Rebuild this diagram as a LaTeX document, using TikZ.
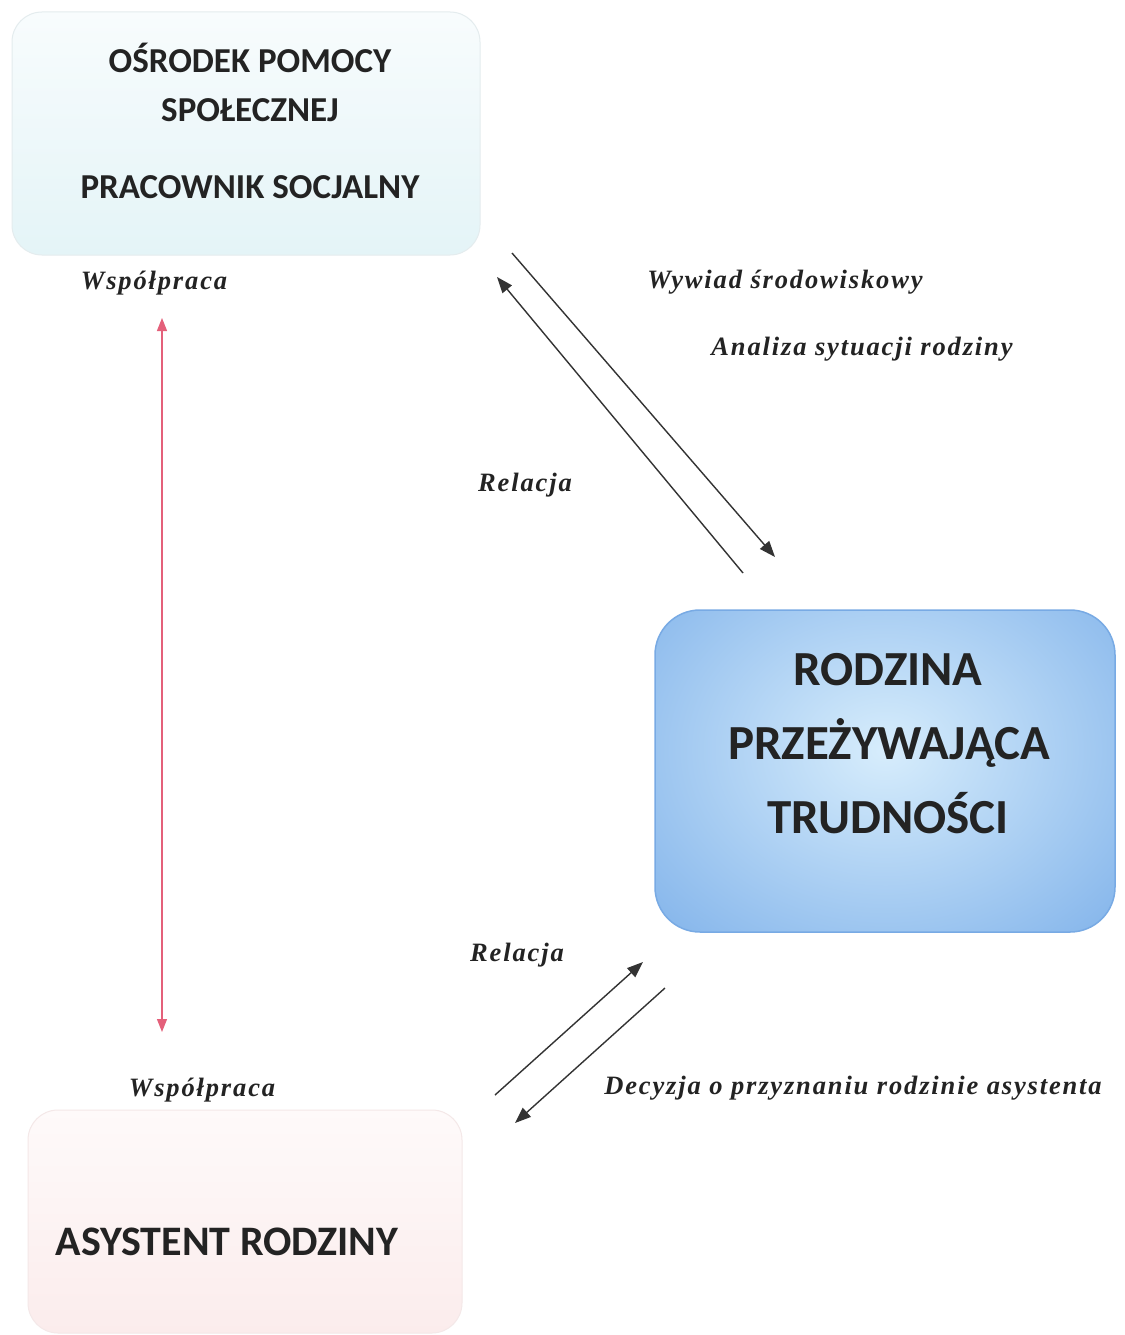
\documentclass[tikz,border=0pt]{standalone}
\usepackage{fontspec}
\setmainfont{Carlito}
\newfontfamily\labfont[LetterSpace=7,UprightFont={* Bold Italic}]{Liberation Serif}
\usetikzlibrary{arrows.meta}
\definecolor{boxline}{RGB}{228,236,238}
\definecolor{cyanfill}{RGB}{248,252,253}
\definecolor{cyanfilldk}{RGB}{228,244,247}
\definecolor{pinkfill}{RGB}{254,250,250}
\definecolor{pinkfilldk}{RGB}{251,236,236}
\definecolor{pinkline}{RGB}{244,232,232}
\definecolor{bluein}{RGB}{215,237,252}
\definecolor{blueout}{RGB}{128,178,234}
\definecolor{blueline}{RGB}{120,170,228}
\definecolor{redarrow}{RGB}{228,96,122}
\definecolor{textdark}{RGB}{35,35,35}
\tikzset{
  softbox/.style={rounded corners=30pt, line width=1pt},
  boxtitle/.style={font=\bfseries\fontsize{35}{42}\selectfont, text=textdark, inner sep=0pt},
  bigtitle/.style={font=\bfseries\fontsize{49}{58}\selectfont, text=textdark, inner sep=0pt},
  lab/.style={font=\labfont\fontsize{26.5}{30}\selectfont, text=textdark, inner sep=0pt},
  blackarrow/.style={draw=black!80, line width=1.4pt, -{Triangle[length=16pt,width=12pt]}},
  redline/.style={draw=redarrow, line width=1.2pt, {Triangle[length=13pt,width=10pt]}-{Triangle[length=13pt,width=10pt]}}
}
\begin{document}
\begin{tikzpicture}[x=1pt,y=-1pt]
\useasboundingbox (0,0) rectangle (1124,1335);
\fill[white] (0,0) rectangle (1124,1335);

% top-left box
\path[softbox, top color=cyanfill, bottom color=cyanfilldk, draw=boxline] (12,12) rectangle (480,255);
\node[boxtitle] (osrodek) at (250,58) {OŚRODEK POMOCY};
\node[boxtitle] (spol) at (250,110) {SPOŁECZNEJ};
\node[boxtitle] (pracownik) at (250,187) {PRACOWNIK SOCJALNY};

% bottom-left box
\path[softbox, top color=pinkfill, bottom color=pinkfilldk, draw=pinkline] (28,1110) rectangle (462,1333);
\node[boxtitle, font=\bfseries\fontsize{42}{50}\selectfont] (asystent) at (227,1242) {ASYSTENT RODZINY};

% right box
\begin{scope}
\clip[rounded corners=45pt] (655,610) rectangle (1115,932);
\shade[inner color=bluein, outer color=blueout] (885,750) ellipse (340pt and 270pt);
\end{scope}
\draw[rounded corners=45pt, draw=blueline, line width=1.5pt] (655,610) rectangle (1115,932);
\node[bigtitle] (rodzina) at (888,670) {RODZINA};
\node[bigtitle] (przez) at (889,743) {PRZEŻYWAJĄCA};
\node[bigtitle] (trud) at (888,813) {TRUDNOŚCI};

% arrow endpoints
\coordinate (a1s) at (512,253);
\coordinate (a1e) at (775,557);
\coordinate (a2s) at (743,573);
\coordinate (a2e) at (497,277);
\coordinate (b1s) at (495,1095);
\coordinate (b1e) at (643,962);
\coordinate (b2s) at (665,988);
\coordinate (b2e) at (515,1123);
\coordinate (r1) at (162,318);
\coordinate (r2) at (162,1032);

\draw[blackarrow] (a1s) -- (a1e);
\draw[blackarrow] (a2s) -- (a2e);
\draw[blackarrow] (b1s) -- (b1e);
\draw[blackarrow] (b2s) -- (b2e);
\draw[redline] (r1) -- (r2);

% labels
\node[lab] (wsp1) at (154,283) {Współpraca};
\node[lab] (wywiad) at (785,282) {Wywiad środowiskowy};
\node[lab] (analiza) at (862,349) {Analiza sytuacji rodziny};
\node[lab] (rel1) at (525,485) {Relacja};
\node[lab] (rel2) at (517,955) {Relacja};
\node[lab] (wsp2) at (202,1090) {Współpraca};
\node[lab] (decyzja) at (853,1088) {Decyzja o przyznaniu rodzinie asystenta};
\end{tikzpicture}
\end{document}
